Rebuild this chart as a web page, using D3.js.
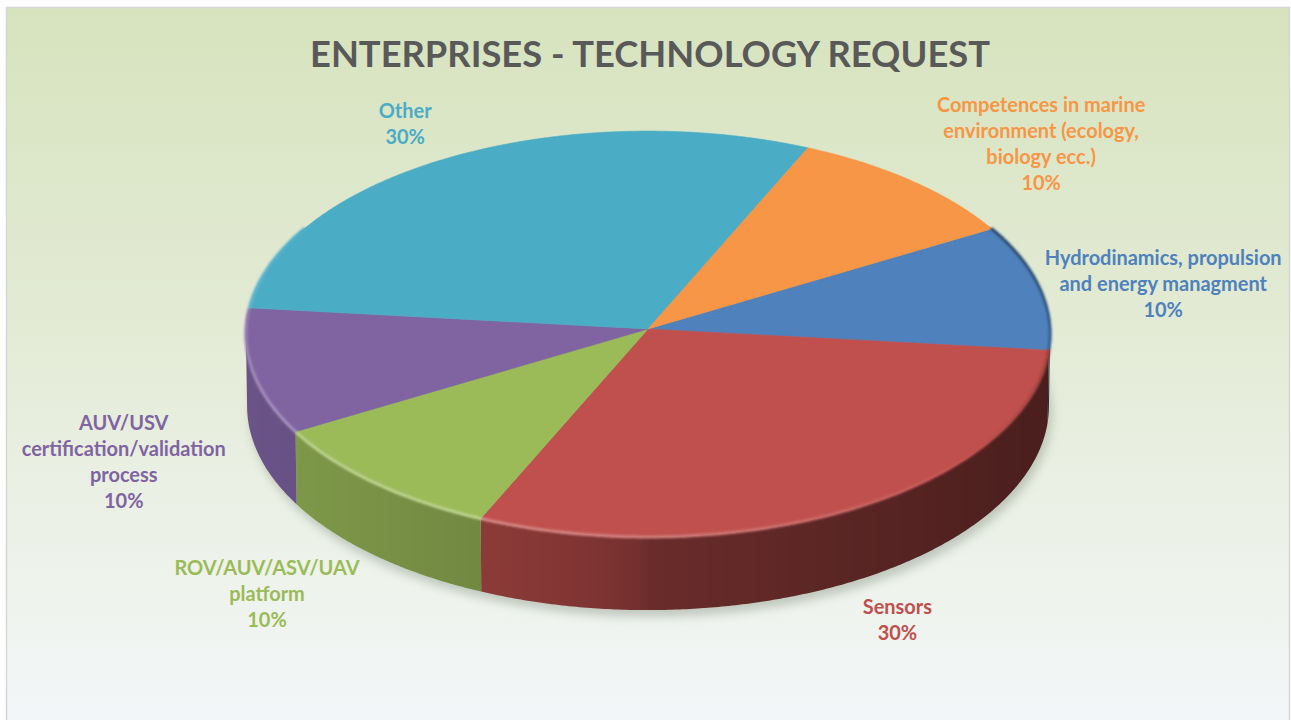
<!DOCTYPE html>
<html>
<head>
<meta charset="utf-8">
<script src="https://cdn.jsdelivr.net/npm/d3@7"></script>
<style>
  html, body { margin: 0; padding: 0; background: #ffffff; }
  svg { display: block; }
</style>
</head>
<body>
<svg id="chart" width="1291" height="720"></svg>
<script>
// ---- data ----
const chartTitle = "ENTERPRISES - TECHNOLOGY REQUEST";
const categories = [
  "Hydrodinamics, propulsion and energy managment",
  "Sensors",
  "ROV/AUV/ASV/UAV platform",
  "AUV/USV certification/validation process",
  "Other",
  "Competences in marine environment (ecology, biology ecc.)"
];
const shares = [10, 30, 10, 10, 30, 10];
const labelLines = [
  ["Hydrodinamics, propulsion", "and energy managment"],
  ["Sensors"],
  ["ROV/AUV/ASV/UAV", "platform"],
  ["AUV/USV", "certification/validation", "process"],
  ["Other"],
  ["Competences in marine", "environment (ecology,", "biology ecc.)"]
];
const sliceColors = ["#4F81BD", "#C0504D", "#9BBB59", "#8064A2", "#4BACC6", "#F79646"];

// ---- layout ----
const FONT = "Lato, 'Open Sans', 'DejaVu Sans', sans-serif";
const geo = {
  cx: 648, cy: 329,          // pie apex on screen
  R: 402,                    // radius in px at the widest point
  tilt: 30.3 * Math.PI / 180,// viewing elevation
  dist: 35,                  // camera distance (in radii) for the mild perspective
  depth: 0.208,              // thickness of the disc (in radii)
  firstAngle: 60             // degrees clockwise from 12 o'clock
};
// label block offsets from the rim point on each slice's mid-angle
const labelNudge = [[124, -3], [44, 111], [-107, 111], [-129, 90], [-46, -33], [129, -37]];

const svg = d3.select("#chart");
const defs = svg.append("defs");

// background panel
const bgGrad = defs.append("linearGradient").attr("id", "bgGrad")
  .attr("x1", 0).attr("y1", 0).attr("x2", 0).attr("y2", 1);
[["0%", "#D7E3BE"], ["40%", "#E2EAD3"], ["75%", "#EDF2EA"], ["100%", "#F4F7FB"]]
  .forEach(([o, c]) => bgGrad.append("stop").attr("offset", o).attr("stop-color", c));
svg.append("rect")
  .attr("x", 6.5).attr("y", 7.5).attr("width", 1283).attr("height", 740)
  .attr("fill", "url(#bgGrad)").attr("stroke", "#D6D6D6").attr("stroke-width", 1.5);

// filters
const shadowF = defs.append("filter").attr("id", "pieShadow")
  .attr("x", "-10%").attr("y", "-10%").attr("width", "120%").attr("height", "130%");
shadowF.append("feGaussianBlur").attr("stdDeviation", 5);
const rimF = defs.append("filter").attr("id", "rimBlur")
  .attr("x", "-5%").attr("y", "-5%").attr("width", "110%").attr("height", "110%");
rimF.append("feGaussianBlur").attr("stdDeviation", 0.9);

// ---- projection of the tilted disc ----
const sinT = Math.sin(geo.tilt), cosT = Math.cos(geo.tilt);
function project(theta, r, h) {
  const X = r * Math.sin(theta);
  const Z = -r * Math.cos(theta);           // toward the viewer is positive
  const sy = Z * sinT - h * cosT;
  const dz = Z * cosT + h * sinT;
  const s = geo.dist / (geo.dist - dz);
  return [geo.cx + geo.R * s * X, geo.cy + geo.R * s * sy, dz];
}
const xy = p => [p[0], p[1]];

const rad = d => d * Math.PI / 180;
const TAU = 2 * Math.PI;
const pie = d3.pie().sort(null).value(d => d)
  .startAngle(rad(geo.firstAngle)).endAngle(rad(geo.firstAngle) + TAU);
const arcs = pie(shares);
const total = d3.sum(shares);
const pct = d3.format(".0%");
const line = d3.line();

function sliceAt(theta) {
  let t = ((theta % TAU) + TAU) % TAU;
  if (t < arcs[0].startAngle) t += TAU;
  for (const a of arcs) if (t >= a.startAngle && t < a.endAngle) return a.index;
  return arcs[arcs.length - 1].index;
}
function scaleColor(c, f) {
  const k = d3.rgb(c);
  return d3.rgb(k.r * f, k.g * f, k.b * f).formatHex();
}
// side shading: lighter on the left, darker on the right
function wallShade(theta) {
  const s = Math.sin(theta);
  return s < 0 ? 0.55 + 0.28 * Math.sqrt(-s) : 0.55 - 0.17 * s;
}
// does the outer wall at this angle face the camera?
function wallFacesViewer(theta) {
  const e = 1e-3;
  const p1 = project(theta - e, 1, 0), p2 = project(theta + e, 1, 0);
  const p3 = project(theta + e, 1, -geo.depth);
  const area = (p2[0] - p1[0]) * (p3[1] - p1[1]) - (p3[0] - p1[0]) * (p2[1] - p1[1]);
  return area < 0;
}
const frontIsNegative = (() => {
  const e = 1e-3, t = Math.PI;
  const p1 = project(t - e, 1, 0), p2 = project(t + e, 1, 0), p3 = project(t + e, 1, -geo.depth);
  return ((p2[0] - p1[0]) * (p3[1] - p1[1]) - (p3[0] - p1[0]) * (p2[1] - p1[1])) < 0;
})();
const faces = t => wallFacesViewer(t) === frontIsNegative;

const pieG = svg.append("g");

// soft shadow under the disc
const baseRing = d3.range(0, 361, 2).map(d => xy(project(rad(d), 1, -geo.depth)));
pieG.append("path")
  .attr("d", line(baseRing) + "Z")
  .attr("transform", "translate(3,7)")
  .attr("fill", "#6E7A6A").attr("opacity", 0.35)
  .attr("filter", "url(#pieShadow)");

// outer wall: one shape per slice over its visible stretch, shaded left to right
const xLeft = geo.cx - geo.R - 10, xRight = geo.cx + geo.R + 10;
const wallG = pieG.append("g");
arcs.forEach(a => {
  const n = Math.ceil((a.endAngle - a.startAngle) / rad(0.5));
  const ts = d3.range(n + 1).map(i => a.startAngle + (a.endAngle - a.startAngle) * i / n)
    .filter(faces);
  if (ts.length < 2) return;
  const top = ts.map(t => xy(project(t, 1, 0)));
  const bottom = ts.map(t => xy(project(t, 1, -geo.depth))).reverse();
  const gid = "wall" + a.index;
  const g = defs.append("linearGradient").attr("id", gid)
    .attr("gradientUnits", "userSpaceOnUse")
    .attr("x1", xLeft).attr("y1", 0).attr("x2", xRight).attr("y2", 0);
  ts.map(t => ({ off: (project(t, 1, 0)[0] - xLeft) / (xRight - xLeft),
                 col: scaleColor(sliceColors[a.index], wallShade(t)) }))
    .sort((p, q) => p.off - q.off)
    .forEach(s => g.append("stop").attr("offset", s.off).attr("stop-color", s.col));
  wallG.append("path")
    .attr("d", line(top.concat(bottom)) + "Z")
    .attr("fill", `url(#${gid})`);
});

// top faces
function topPath(a) {
  const pts = [[geo.cx, geo.cy]];
  const n = Math.max(2, Math.ceil((a.endAngle - a.startAngle) / rad(0.5)));
  for (let i = 0; i <= n; i++) {
    const t = a.startAngle + (a.endAngle - a.startAngle) * i / n;
    pts.push(xy(project(t, 1, 0)));
  }
  return line(pts) + "Z";
}
pieG.append("g").selectAll("path").data(arcs).join("path")
  .attr("d", topPath)
  .attr("fill", a => sliceColors[a.index])
  .attr("stroke", a => sliceColors[a.index])
  .attr("stroke-width", 0.6);

// bevelled rim along the visible top edge
const rim = [];
for (let d = 60; d < 300; d += 1) {
  const t1 = rad(d), t2 = rad(d + 1), tm = rad(d + 0.5);
  const idx = sliceAt(tm);
  const dot = -0.6 * Math.sin(tm) - 0.8 * Math.cos(tm);
  const base = d3.rgb(sliceColors[idx]);
  const col = dot > 0
    ? d3.interpolateRgb(base, "#ffffff")(0.32 * dot)
    : d3.interpolateRgb(base, "#000000")(0.45 * -dot);
  rim.push({ pts: [xy(project(t1, 1, 0)), xy(project(t2, 1, 0))], col });
}
pieG.append("g").attr("filter", "url(#rimBlur)")
  .selectAll("path").data(rim).join("path")
  .attr("d", r => line(r.pts))
  .attr("fill", "none").attr("stroke", r => r.col)
  .attr("stroke-width", 3).attr("stroke-linecap", "round");

// ---- title ----
svg.append("text")
  .attr("x", 650).attr("y", 67)
  .attr("text-anchor", "middle")
  .attr("font-family", FONT).attr("font-weight", 700)
  .attr("font-size", 36).attr("fill", "#595959")
  .attr("textLength", 680).attr("lengthAdjust", "spacingAndGlyphs")
  .text(chartTitle);

// ---- data labels ----
const probe = svg.append("text").attr("font-family", FONT).attr("font-weight", 700)
  .attr("font-size", 20).text(labelLines[0][0]);
const probeW = probe.node().getComputedTextLength();
probe.remove();
const labelSize = 20 * 237 / probeW;
const lineGap = 26;

const labelG = svg.append("g")
  .attr("font-family", FONT).attr("font-weight", 700)
  .attr("font-size", labelSize).attr("text-anchor", "middle");
arcs.forEach(a => {
  const mid = (a.startAngle + a.endAngle) / 2;
  const rimPt = project(mid, 1, 0);
  const cxL = rimPt[0] + labelNudge[a.index][0];
  const cyL = rimPt[1] + labelNudge[a.index][1];
  const lines = labelLines[a.index].concat([pct(a.value / total)]);
  const n = lines.length;
  const t = labelG.append("text").attr("fill", sliceColors[a.index]);
  lines.forEach((s, j) => {
    t.append("tspan").attr("x", cxL)
      .attr("y", cyL + (j - (n - 1) / 2) * lineGap + 0.36 * labelSize)
      .text(s);
  });
});
</script>
</body>
</html>
